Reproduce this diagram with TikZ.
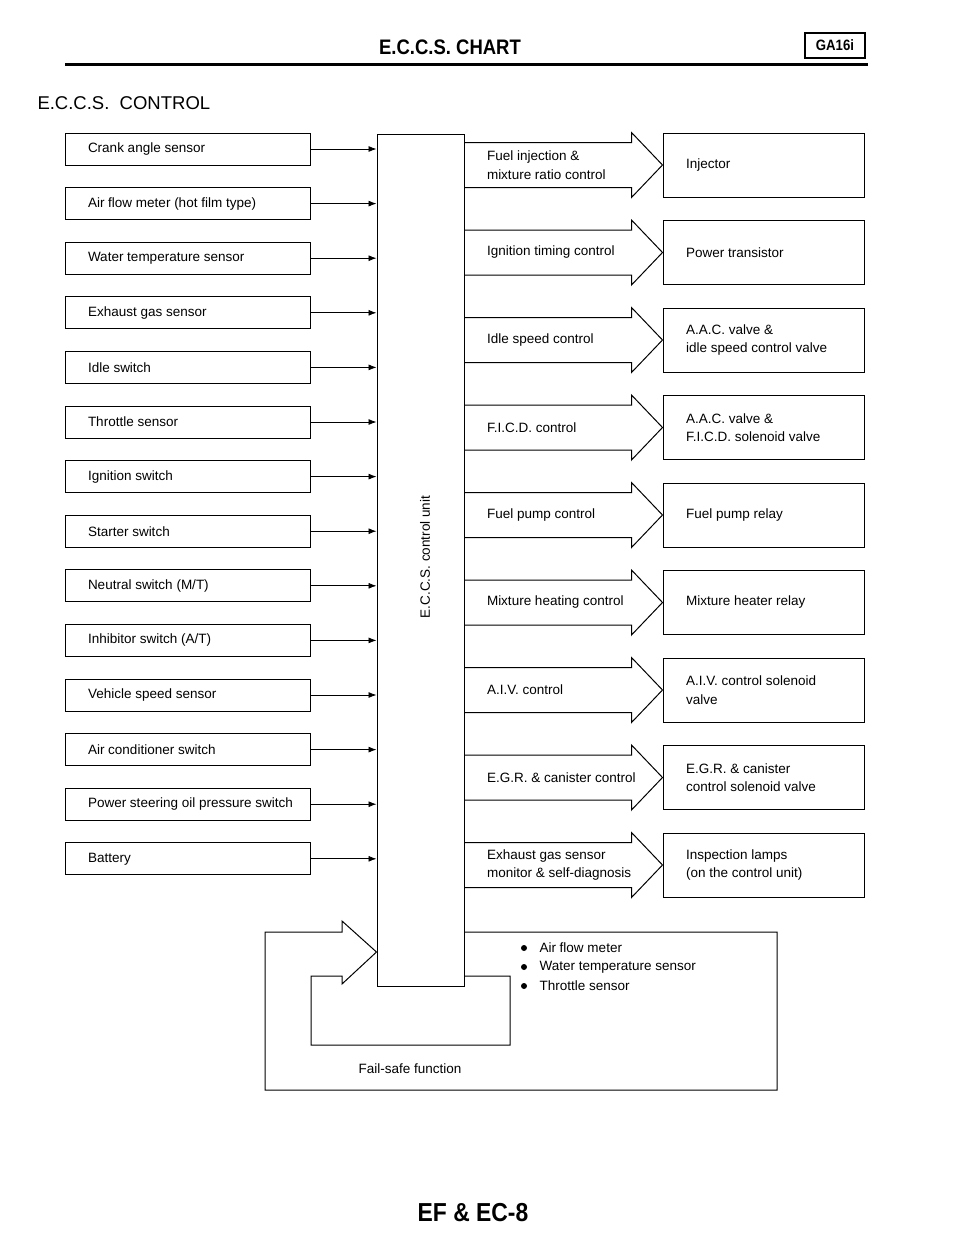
\documentclass[tikz,border=0pt]{standalone}
\usepackage{fontspec}
\setmainfont{Liberation Sans}
\newfontfamily\headfont[FakeStretch=0.88]{Liberation Sans}
\usetikzlibrary{arrows.meta,calc}
\begin{document}
\begin{tikzpicture}[x=1pt,y=-1pt,line width=1pt,
  sbox/.style={draw, minimum width=245pt, minimum height=32pt, inner sep=0pt},
  obox/.style={draw, minimum width=201pt, minimum height=64pt, inner sep=0pt},
  lbl/.style={anchor=west, align=left, inner sep=0pt, font=\fontsize{13.5}{18.5}\selectfont},
  inarrow/.style={-{Latex[length=8pt,width=6pt]}, line width=0.8pt},
  bigarrow/.style={line width=1pt, line join=miter}]
\useasboundingbox (0,0) rectangle (960,1242);

% header
\node[font=\headfont\bfseries\fontsize{21}{21}\selectfont] (title) at (450,47) {E.C.C.S. CHART};
\node[draw, line width=1.2pt, minimum width=60pt, minimum height=25pt, inner sep=0pt,
      font=\headfont\bfseries\fontsize{15}{15}\selectfont] (ga) at (835,45.5) {GA16i};
\draw[line width=3pt] (65,64) coordinate (r1) -- (868,64) coordinate (r2);
\node[anchor=west, inner sep=0pt, font=\fontsize{18.5}{18.5}\selectfont] (sub) at (37,103) {E.C.C.S.\ \ CONTROL};

% control unit
\node[draw, minimum width=87pt, minimum height=852pt, inner sep=0pt] (cu) at (420.5,560) {};
\node[rotate=90, inner sep=0pt, font=\fontsize{13.5}{16}\selectfont] (cut) at (425,557) {E.C.C.S. control unit};

% sensors
\foreach \t [count=\i] in {Crank angle sensor, Air flow meter (hot film type), Water temperature sensor,
  Exhaust gas sensor, Idle switch, Throttle sensor, Ignition switch, Starter switch,
  Neutral switch (M/T), Inhibitor switch (A/T), Vehicle speed sensor, Air conditioner switch,
  Power steering oil pressure switch, Battery}{
  \pgfmathsetmacro\yy{149+54.6*(\i-1)}
  \node[sbox] (s\i) at (187.5,\yy) {};
  \node[lbl] (st\i) at ($(s\i.west)+(23,0)$) {\t};
  \draw[inarrow] (s\i.east) -- (s\i.east -| cu.west);
}

% outputs
\foreach \a/\b [count=\i] in {
  {Fuel injection \&\\mixture ratio control}/{Injector},
  {Ignition timing control}/{Power transistor},
  {Idle speed control}/{A.A.C. valve \&\\idle speed control valve},
  {F.I.C.D. control}/{A.A.C. valve \&\\F.I.C.D. solenoid valve},
  {Fuel pump control}/{Fuel pump relay},
  {Mixture heating control}/{Mixture heater relay},
  {A.I.V. control}/{A.I.V. control solenoid\\valve},
  {E.G.R. \& canister control}/{E.G.R. \& canister\\control solenoid valve},
  {Exhaust gas sensor\\monitor \& self-diagnosis}/{Inspection lamps\\(on the control unit)}}{
  \pgfmathsetmacro\yy{165+87.5*(\i-1)}
  \node[obox] (o\i) at (763.5,\yy) {};
  \draw[bigarrow] let \p1=(o\i.west), \p2=(cu.east) in
    (\x2,\y1+22.5pt) -- (\x1-31pt,\y1+22.5pt) -- (\x1-31pt,\y1+32.5pt) -- (\p1)
    -- (\x1-31pt,\y1-32.5pt) -- (\x1-31pt,\y1-22.5pt) -- (\x2,\y1-22.5pt);
  \node[lbl] (al\i) at ($(cu.east|-o\i.west)+(22,0)$) {\a};
  \node[lbl] (ol\i) at ($(o\i.west)+(23,0)$) {\b};
}

% fail-safe
\coordinate (tip) at (cu.west |- 0,952);
\draw[bigarrow] (cu.east |- 0,932) -- (777,932) -- (777,1090) -- (265,1090) -- (265,932)
  -- (342,932) -- (342,921) -- (tip) -- (342,984) -- (342,976) -- (311,976)
  -- (311,1045) -- (510,1045) -- (510,976) -- (cu.east |- 0,976);
\foreach \t [count=\i] in {Air flow meter, Water temperature sensor, Throttle sensor}{
  \pgfmathsetmacro\yy{948+19*(\i-1)}
  \fill (524,\yy) circle (3pt);
  \node[lbl] (b\i) at (539,\yy) {\t};
}
\node[inner sep=0pt, font=\fontsize{13.5}{16}\selectfont] (fsf) at (410,1069) {Fail-safe function};

% footer
\node[font=\headfont\bfseries\fontsize{26}{26}\selectfont] (foot) at (473,1213) {EF \& EC-8};
\end{tikzpicture}
\end{document}
